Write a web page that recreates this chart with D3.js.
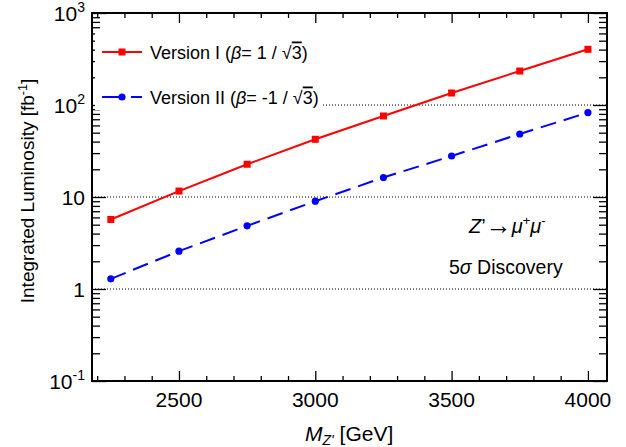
<!DOCTYPE html>
<html>
<head>
<meta charset="utf-8">
<script src="https://cdn.jsdelivr.net/npm/d3@7"></script>
<style>
  body { margin: 0; background: #fff; }
  text { font-family: "Liberation Sans", Arial, Helvetica, sans-serif; }
</style>
</head>
<body>
<div id="chart"></div>
<script>
// masses (GeV) and required luminosity (fb^-1)
var masses = [2250, 2500, 2750, 3000, 3250, 3500, 3750, 4000];
var versionI = [5.7, 11.6, 22.7, 42.4, 76, 135, 234, 403];
var versionII = [1.29, 2.58, 4.86, 9.0, 16.3, 27.9, 48.4, 82.7];
var xTicks = [2500, 3000, 3500, 4000];
var yTicks = [0.1, 1, 10, 100, 1000];
var yLabels = [["10", "-1"], ["1", ""], ["10", ""], ["10", "2"], ["10", "3"]];
var gridValues = [1, 10, 100];

var W = 626, H = 447;
// note: "top" is reserved on window, so use frame* names
var frameL = 92, frameR = 607, frameT = 13, frameB = 381;

var svg = d3.select("#chart").append("svg")
    .attr("width", W)
    .attr("height", H);

var x = d3.scaleLinear().domain([2181, 4070]).range([frameL, frameR]);
var y = d3.scaleLog().domain([0.1, 1000]).range([frameB, frameT]);

// minor tick values
var xMinor = d3.range(2200, 4001, 100).filter(function(v) { return xTicks.indexOf(v) < 0; });
var yMinor = [];
[0.1, 1, 10, 100].forEach(function(d) {
    for (var k = 2; k <= 9; k++) yMinor.push(d * k);
});

// dotted grid lines
svg.selectAll(".grid").data(gridValues).enter()
    .append("line")
        .attr("x1", frameL).attr("x2", frameR)
        .attr("y1", function(d) { return y(d); })
        .attr("y2", function(d) { return y(d); })
        .attr("stroke", "#000")
        .attr("stroke-width", 1)
        .attr("stroke-dasharray", "1,2");

// axes: ticks pointing inward on all four sides
function addAxis(axis, tx, ty) {
    var g = svg.append("g").attr("transform", "translate(" + tx + "," + ty + ")").call(axis);
    g.select(".domain").remove();
    g.selectAll("line").attr("stroke", "#000").attr("stroke-width", 1.3);
    return g;
}
addAxis(d3.axisTop(x).tickValues(xTicks).tickSize(10).tickFormat(""), 0, frameB);
addAxis(d3.axisTop(x).tickValues(xMinor).tickSize(5).tickFormat(""), 0, frameB);
addAxis(d3.axisBottom(x).tickValues(xTicks).tickSize(10).tickFormat(""), 0, frameT);
addAxis(d3.axisBottom(x).tickValues(xMinor).tickSize(5).tickFormat(""), 0, frameT);
addAxis(d3.axisRight(y).tickValues(yTicks).tickSize(14).tickFormat(""), frameL, 0);
addAxis(d3.axisRight(y).tickValues(yMinor).tickSize(8).tickFormat(""), frameL, 0);
addAxis(d3.axisLeft(y).tickValues(yTicks).tickSize(14).tickFormat(""), frameR, 0);
addAxis(d3.axisLeft(y).tickValues(yMinor).tickSize(8).tickFormat(""), frameR, 0);

// frame
svg.append("rect")
    .attr("x", frameL).attr("y", frameT)
    .attr("width", frameR - frameL).attr("height", frameB - frameT)
    .attr("fill", "none")
    .attr("stroke", "#000")
    .attr("stroke-width", 2);

// x tick labels
svg.selectAll(".xlab").data(xTicks).enter()
    .append("text")
        .attr("x", function(d) { return x(d); })
        .attr("y", 407)
        .attr("text-anchor", "middle")
        .attr("font-size", 21)
        .text(function(d) { return d; });

// y tick labels with exponents
var yl = svg.selectAll(".ylab").data(yTicks).enter()
    .append("text")
        .attr("x", 85)
        .attr("y", function(d) { return y(d) + 7.5; })
        .attr("text-anchor", "end")
        .attr("font-size", 21);
yl.append("tspan").text(function(d, i) { return yLabels[i][0]; });
yl.append("tspan")
    .attr("dy", -9)
    .attr("font-size", 14)
    .text(function(d, i) { return yLabels[i][1]; });

// axis titles
svg.append("text")
    .attr("transform", "translate(34," + ((frameT + frameB) / 2 - 6) + ") rotate(-90)")
    .attr("text-anchor", "middle")
    .attr("font-size", 19)
    .call(function(t) {
        t.append("tspan").text("Integrated Luminosity [fb");
        t.append("tspan").attr("dy", -7).attr("font-size", 12.5).text("-1");
        t.append("tspan").attr("dy", 7).text("]");
    });

svg.append("text")
    .attr("x", 305)
    .attr("y", 441)
    .attr("font-size", 21)
    .call(function(t) {
        t.append("tspan").attr("font-style", "italic").text("M");
        t.append("tspan").attr("dy", 4).attr("font-size", 14).attr("font-style", "italic").text("Z'");
        t.append("tspan").attr("dy", -4).text(" [GeV]");
    });

// legend box hides the grid line behind it
svg.append("rect")
    .attr("x", 95).attr("y", 30)
    .attr("width", 226).attr("height", 80)
    .attr("fill", "#fff");

// curves
var line = d3.line()
    .x(function(d) { return x(d[0]); })
    .y(function(d) { return y(d[1]); });

var red = "#ff0000", blue = "#0000ff";
var redData = d3.zip(masses, versionI);
var blueData = d3.zip(masses, versionII);

svg.append("path")
    .attr("d", line(redData))
    .attr("fill", "none")
    .attr("stroke", red)
    .attr("stroke-width", 2);

svg.append("path")
    .attr("d", line(blueData))
    .attr("fill", "none")
    .attr("stroke", blue)
    .attr("stroke-width", 2)
    .attr("stroke-dasharray", "16,8");

svg.selectAll(".sq").data(redData).enter()
    .append("rect")
        .attr("x", function(d) { return x(d[0]) - 3.5; })
        .attr("y", function(d) { return y(d[1]) - 3.5; })
        .attr("width", 7).attr("height", 7)
        .attr("fill", red);

svg.selectAll(".dot").data(blueData).enter()
    .append("circle")
        .attr("cx", function(d) { return x(d[0]); })
        .attr("cy", function(d) { return y(d[1]); })
        .attr("r", 3.6)
        .attr("fill", blue);

// legend
var legendY = [52, 97];
svg.append("line").attr("x1", 102).attr("x2", 142).attr("y1", legendY[0]).attr("y2", legendY[0])
    .attr("stroke", red).attr("stroke-width", 2);
svg.append("rect").attr("x", 118.5).attr("y", legendY[0] - 3.5).attr("width", 7).attr("height", 7).attr("fill", red);
svg.append("line").attr("x1", 102).attr("x2", 142).attr("y1", legendY[1]).attr("y2", legendY[1])
    .attr("stroke", blue).attr("stroke-width", 2).attr("stroke-dasharray", "22,7,15");
svg.append("circle").attr("cx", 122).attr("cy", legendY[1]).attr("r", 3.6).attr("fill", blue);

function legendText(yPos, name, sign) {
    svg.append("text")
        .attr("x", 150)
        .attr("y", yPos + 6.5)
        .attr("font-size", 18)
        .call(function(t) {
            t.append("tspan").text(name + " (");
            t.append("tspan").attr("font-style", "italic").text("\u03B2");
            t.append("tspan").text("= " + sign + "1 / \u221A");
            t.append("tspan").attr("text-decoration", "overline").text("3");
            t.append("tspan").text(")");
        });
}
legendText(legendY[0], "Version I", "");
legendText(legendY[1], "Version II", "-");

// process label
svg.append("text")
    .attr("x", 469)
    .attr("y", 233)
    .attr("font-size", 20)
    .call(function(t) {
        t.append("tspan").attr("font-style", "italic").text("Z");
        t.append("tspan").text("\u2019");
        t.append("tspan").attr("font-size", 26).attr("dy", 1).text("\u2192");
        t.append("tspan").attr("dy", -1).attr("font-style", "italic").text("\u03BC");
        t.append("tspan").attr("dy", -8).attr("font-size", 13).text("+");
        t.append("tspan").attr("dy", 8).attr("font-style", "italic").text("\u03BC");
        t.append("tspan").attr("dy", -8).attr("font-size", 13).text("-");
    });

svg.append("text")
    .attr("x", 449)
    .attr("y", 274)
    .attr("font-size", 19.5)
    .call(function(t) {
        t.append("tspan").text("5");
        t.append("tspan").attr("font-style", "italic").text("\u03C3");
        t.append("tspan").text(" Discovery");
    });
</script>
</body>
</html>
